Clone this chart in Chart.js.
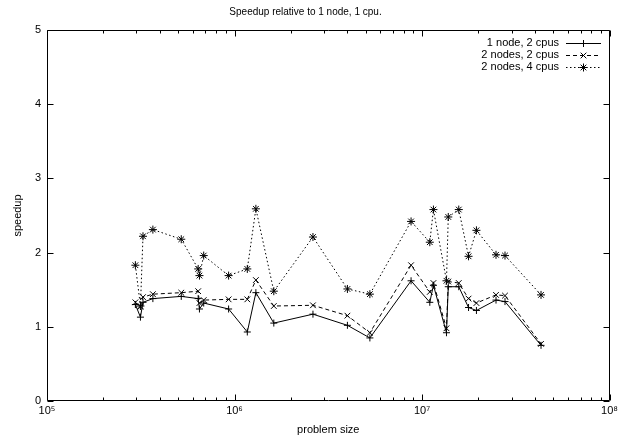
<!DOCTYPE html>
<html><head><meta charset="utf-8">
<script src="https://cdn.jsdelivr.net/npm/chart.js@4/dist/chart.umd.min.js"></script>
<style>html,body{margin:0;padding:0;background:#fff}#wrap{width:621px;height:441px}</style>
</head><body><div id="wrap"><canvas id="c" width="621" height="441"></canvas></div>
<script>
const problemSizes = [2.96e5, 3.15e5, 3.25e5, 3.67e5, 5.2e5, 6.4e5, 6.5e5, 6.85e5, 9.3e5, 1.17e6, 1.30e6, 1.62e6, 2.62e6, 4.0e6, 5.27e6, 8.74e6, 1.10e7, 1.15e7, 1.35e7, 1.38e7, 1.57e7, 1.77e7, 1.95e7, 2.48e7, 2.77e7, 4.31e7];
const speedup1node2cpus = [1.30, 1.13, 1.33, 1.38, 1.41, 1.38, 1.24, 1.32, 1.24, 0.93, 1.46, 1.05, 1.17, 1.02, 0.85, 1.62, 1.33, 1.56, 0.92, 1.54, 1.54, 1.26, 1.22, 1.36, 1.34, 0.75];
const speedup2nodes2cpus = [1.33, 1.27, 1.40, 1.44, 1.46, 1.48, 1.32, 1.36, 1.37, 1.37, 1.63, 1.28, 1.29, 1.15, 0.92, 1.83, 1.47, 1.59, 0.98, 1.61, 1.59, 1.38, 1.32, 1.43, 1.42, 0.77];
const speedup2nodes4cpus = [1.83, 1.28, 2.22, 2.31, 2.18, 1.78, 1.69, 1.96, 1.69, 1.78, 2.59, 1.48, 2.21, 1.51, 1.44, 2.42, 2.14, 2.58, 1.62, 2.48, 2.58, 1.95, 2.30, 1.97, 1.96, 1.43];
const seriesLabels = ['1 node, 2 cpus', '2 nodes, 2 cpus', '2 nodes, 4 cpus'];
const xTickValues = [1e5, 1e6, 1e7, 1e8];
const yTickValues = [0, 1, 2, 3, 4, 5];
const chartTitle = 'Speedup relative to 1 node, 1 cpu.';
const xTitle = 'problem size';
const yTitle = 'speedup';

const SUP = '⁰¹²³⁴⁵⁶⁷⁸⁹';
function sup(n){ return String(n).split('').map(c => SUP[+c]).join(''); }
function pts(vals){ return problemSizes.map((x,i) => ({x: x, y: vals[i]})); }

const FONT = "'Liberation Sans', Arial, Helvetica, sans-serif";

const framePlugin = {
  id: 'frame',
  afterDatasetsDraw(chart){
    const ctx = chart.ctx, a = chart.chartArea;
    const xs = chart.scales.x, ys = chart.scales.y;
    ctx.save();
    ctx.strokeStyle = '#000';
    ctx.lineWidth = 1;
    ctx.setLineDash([]);
    const L = Math.round(a.left)+0.5, R = Math.round(a.right)-0.5, T = Math.round(a.top)+0.5, B = Math.round(a.bottom)-0.5;
    ctx.beginPath();
    ctx.rect(L, T, R-L, B-T);
    // y ticks
    yTickValues.forEach(v => {
      const p = Math.round(ys.getPixelForValue(v)) + 0.5;
      ctx.moveTo(L, p); ctx.lineTo(L+6, p);
      ctx.moveTo(R, p); ctx.lineTo(R-6, p);
    });
    // x major ticks
    xTickValues.forEach(v => {
      const p = Math.round(xs.getPixelForValue(v)) + 0.5;
      ctx.moveTo(p, B); ctx.lineTo(p, B-6);
      ctx.moveTo(p, T); ctx.lineTo(p, T+6);
    });
    // x minor ticks
    for (let i = 0; i < xTickValues.length-1; i++){
      for (let m = 2; m <= 9; m++){
        const p = Math.round(xs.getPixelForValue(m*xTickValues[i])) + 0.5;
        ctx.moveTo(p, B); ctx.lineTo(p, B-3);
        ctx.moveTo(p, T); ctx.lineTo(p, T+3);
      }
    }
    ctx.stroke();
    ctx.restore();
  }
};

const legendPlugin = {
  id: 'gpLegend',
  afterDraw(chart){
    const ctx = chart.ctx;
    ctx.save();
    ctx.font = '11px ' + FONT;
    ctx.fillStyle = '#000';
    ctx.textAlign = 'right';
    ctx.textBaseline = 'middle';
    chart.data.datasets.forEach((ds, i) => {
      const y = 43 + i*12;
      ctx.fillText(ds.label, 559, y);
      ctx.strokeStyle = '#000';
      ctx.lineWidth = 1;
      ctx.setLineDash(ds.borderDash || []);
      ctx.beginPath();
      ctx.moveTo(566, y+0.5); ctx.lineTo(601, y+0.5);
      ctx.stroke();
      ctx.setLineDash([]);
      Chart.helpers.drawPoint(ctx, {pointStyle: ds.pointStyle, radius: ds.pointRadius, borderWidth: 1, rotation: 0}, 583.5, y+0.5);
    });
    ctx.restore();
  }
};

const common = {borderColor: '#000', backgroundColor: 'rgba(0,0,0,0)', pointBorderColor: '#000', borderWidth: 1, pointBorderWidth: 1, tension: 0, fill: false, pointHoverRadius: 4};

new Chart(document.getElementById('c'), {
  type: 'line',
  data: {
    datasets: [
      Object.assign({label: seriesLabels[0], data: pts(speedup1node2cpus), pointStyle: 'cross', pointRadius: 3.5, borderDash: []}, common),
      Object.assign({label: seriesLabels[1], data: pts(speedup2nodes2cpus), pointStyle: 'crossRot', pointRadius: 4, borderDash: [4, 3]}, common),
      Object.assign({label: seriesLabels[2], data: pts(speedup2nodes4cpus), pointStyle: 'star', pointRadius: 4, borderDash: [1.5, 2.5]}, common)
    ]
  },
  plugins: [framePlugin, legendPlugin],
  options: {
    responsive: false,
    animation: false,
    events: [],
    layout: {padding: {left: 0, right: 10, top: 0, bottom: 0}},
    plugins: {
      legend: {display: false},
      tooltip: {enabled: false},
      title: {display: true, text: chartTitle, color: '#000', font: {family: FONT, size: 10, weight: 'normal', lineHeight: 1.2}, padding: {top: 6, bottom: 12}}
    },
    scales: {
      x: {
        type: 'logarithmic', min: 1e5, max: 1e8,
        afterBuildTicks: s => { s.ticks = xTickValues.map(v => ({value: v, major: true})); },
        afterFit: s => { s.height = 40; },
        grid: {display: false, drawTicks: false},
        border: {display: false},
        ticks: {color: '#000', font: {family: FONT, size: 11}, padding: 3, maxRotation: 0, autoSkip: false,
          callback: v => '10' + sup(Math.round(Math.log10(v)))},
        title: {display: true, text: xTitle, color: '#000', font: {family: FONT, size: 11}, padding: {top: 0, bottom: 4}}
      },
      y: {
        type: 'linear', min: 0, max: 5,
        afterBuildTicks: s => { s.ticks = yTickValues.map(v => ({value: v})); },
        afterFit: s => { s.width = 47; },
        grid: {display: false, drawTicks: false},
        border: {display: false},
        ticks: {color: '#000', font: {family: FONT, size: 11}, padding: 6},
        title: {display: true, text: yTitle, color: '#000', font: {family: FONT, size: 11}, padding: {top: 11, bottom: 0}}
      }
    }
  }
});
</script>
</body></html>
